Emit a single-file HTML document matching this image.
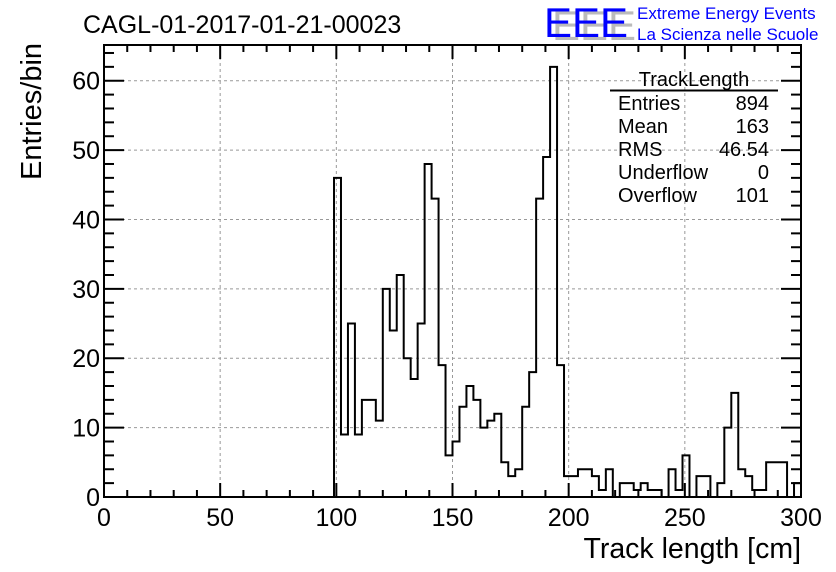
<!DOCTYPE html>
<html><head><meta charset="utf-8">
<style>
html,body{margin:0;padding:0;background:#fff;}
svg{display:block;font-family:"Liberation Sans",Arial,sans-serif;}
</style></head>
<body>
<svg id="chart" width="836" height="572" viewBox="0 0 836 572" xmlns="http://www.w3.org/2000/svg">
<rect x="0" y="0" width="836" height="572" fill="#fff"/>
<text x="83" y="33" font-size="25" fill="#000">CAGL-01-2017-01-21-00023</text>
<g>
<text x="552" y="40" font-size="42" fill="#bbb">EEE</text>
<text x="544" y="37" font-size="42" fill="#0000ff">EEE</text>
<text x="637" y="19" font-size="17" fill="#0000ff">Extreme Energy Events</text>
<text x="637" y="40" font-size="17" fill="#0000ff">La Scienza nelle Scuole</text>
</g>
<g id="grid"></g>
<g id="hist"></g>
<g id="axes"></g>
<g font-size="20" fill="#000">
<text x="694" y="86" text-anchor="middle">TrackLength</text>
<line x1="610" y1="90.5" x2="778" y2="90.5" stroke="#000" stroke-width="2"/>
<text x="618" y="110">Entries</text>
<text x="769" y="110" text-anchor="end">894</text>
<text x="618" y="133">Mean</text>
<text x="769" y="133" text-anchor="end">163</text>
<text x="618" y="156">RMS</text>
<text x="769" y="156" text-anchor="end">46.54</text>
<text x="618" y="179">Underflow</text>
<text x="769" y="179" text-anchor="end">0</text>
<text x="618" y="202">Overflow</text>
<text x="769" y="202" text-anchor="end">101</text>
</g>
<text x="801" y="558" font-size="28.5" text-anchor="end">Track length [cm]</text>
<text transform="translate(41,180) rotate(-90)" font-size="29" text-anchor="start">Entries/bin</text>
</svg>
<script>
const binStart = 99;
const binWidth = 3;
const counts = [46,9,25,9,14,14,11,30,24,32,20,17,25,48,43,19,6,8,13,16,14,10,11,12,5,3,4,13,18,43,49,62,19,3,3,4,4,3,1,4,0,2,2,1,2,1,1,0,4,1,6,0,3,3,0,2,10,15,4,3,1,1,5,5,5,0,2];
const xTicks = [0,50,100,150,200,250,300];
const yTicks = [0,10,20,30,40,50,60];
const xMin=0,xMax=300,yMin=0,yMax=65.15;
const L=104,R=801,T=45,B=497;
const sx=v=>L+(v-xMin)/(xMax-xMin)*(R-L);
const sy=v=>B-(v-yMin)/(yMax-yMin)*(B-T);
const NS="http://www.w3.org/2000/svg";
function mk(tag,attrs,parent){const e=document.createElementNS(NS,tag);for(const k in attrs)e.setAttribute(k,attrs[k]);parent.appendChild(e);return e;}
const grid=document.getElementById('grid'),hist=document.getElementById('hist'),axes=document.getElementById('axes');
xTicks.forEach(v=>{if(v===xMin||v===xMax)return;const l=mk('line',{x1:sx(v),x2:sx(v),y1:T,y2:B,stroke:'#999','stroke-dasharray':'3,3','stroke-width':1},grid);

});
yTicks.forEach(v=>{if(v===yMin)return;const l=mk('line',{x1:L,x2:R,y1:sy(v),y2:sy(v),stroke:'#999','stroke-dasharray':'3,3','stroke-width':1},grid);

});
let d='M'+sx(binStart)+','+sy(0);
counts.forEach((c,i)=>{const x0=sx(binStart+i*binWidth),x1=sx(binStart+(i+1)*binWidth);d+=' L'+x0+','+sy(c)+' L'+x1+','+sy(c);});
d+=' L'+sx(binStart+counts.length*binWidth)+','+sy(0);
const p=mk('path',{d:d,fill:'none',stroke:'#000','stroke-width':2},hist);


const f=mk('rect',{x:L,y:T,width:R-L,height:B-T,fill:'none',stroke:'#000','stroke-width':2},axes);


for(let v=xMin;v<=xMax;v+=10){const major=v%50===0;const len=major?14:7;
const t=mk('line',{x1:sx(v),x2:sx(v),y1:B,y2:B-len,stroke:'#000','stroke-width':2},axes);


const t2=mk('line',{x1:sx(v),x2:sx(v),y1:T,y2:T+len,stroke:'#000','stroke-width':2},axes);

}
xTicks.forEach(v=>{const t=mk('text',{x:sx(v),y:B+29,'font-size':25,'text-anchor':'middle'},axes);t.textContent=v;

});
for(let v=yMin;v<=64;v+=2){const major=v%10===0;const len=major?20:10;
const t=mk('line',{x1:L,x2:L+len,y1:sy(v),y2:sy(v),stroke:'#000','stroke-width':2},axes);


const t2=mk('line',{x1:R,x2:R-len,y1:sy(v),y2:sy(v),stroke:'#000','stroke-width':2},axes);

}
yTicks.forEach(v=>{const t=mk('text',{x:L-4,y:sy(v)+9,'font-size':25,'text-anchor':'end'},axes);t.textContent=v;

});
</script>
</body></html>
